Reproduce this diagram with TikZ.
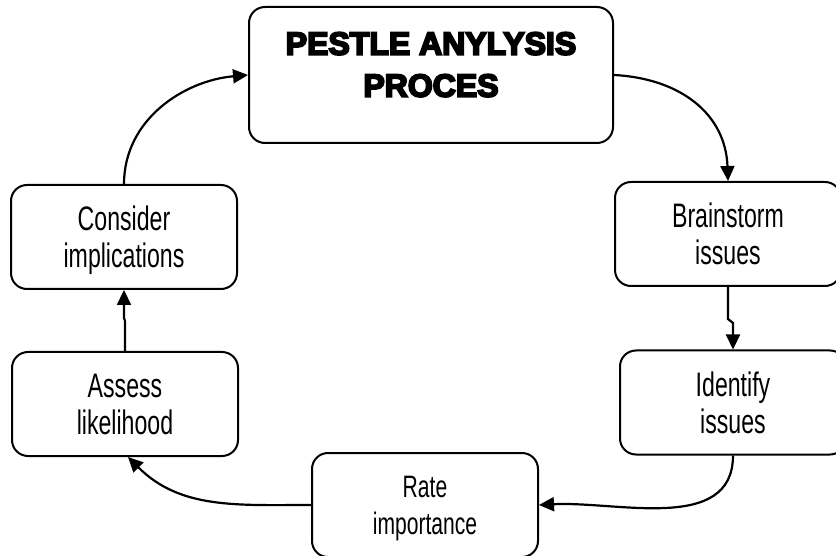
\documentclass[tikz,border=0pt]{standalone}
\usepackage{fontspec}
\setmainfont{Liberation Sans}[FakeStretch=0.68]
\newfontfamily\headfont{Liberation Sans}[FakeBold=6,BoldFeatures={FakeBold=6}]
\usepackage{tikz}
\usetikzlibrary{arrows.meta}
\definecolor{ink}{HTML}{000000}
\tikzset{
  box/.style={draw=ink, line width=2pt, rounded corners=16pt, align=center,
    font=\fontsize{34}{37}\selectfont, minimum width=226pt, minimum height=104pt,
    inner sep=0pt, text depth=0pt},
  small/.style={font=\fontsize{31}{37}\selectfont},
  head/.style={box, font=\headfont\bfseries\fontsize{32}{42}\selectfont,
    minimum width=364pt, minimum height=136pt, text depth=21pt},
  flow/.style={draw=ink, line width=2.2pt, -{Triangle[length=15pt,width=14pt]}},
}

\begin{document}
\begin{tikzpicture}[x=1pt,y=1pt]
  \useasboundingbox (0,0) rectangle (836,555);

  \node[head] (head) at (431,480) {PESTLE ANYLYSIS\\PROCES};
  \node[box] (brain) at (728,321) {Brainstorm\\issues};
  \node[box] (ident) at (733,152.5) {Identify\\issues};
  \node[box,small] (rate) at (425,50) {Rate\\importance};
  \node[box] (assess) at (125,151) {Assess\\likelihood};
  \node[box] (cons) at (124,318) {Consider\\implications};

  \draw[flow] (head.east) to[out=-3,in=92,looseness=1.1] (brain.north);
  \draw[flow] (brain.south) -- ++(0,-32) -- ++(5,-4) -- (ident.north); % small jog
  \draw[flow] (ident.south) to[out=-90,in=3] (rate.east);
  \draw[flow] (rate.west) to[out=180,in=-45] ([xshift=3pt]assess.south);
  \draw[flow] (assess.north) -- ++(0,30) -- ++(-1,3) -- (cons.south); % small jog
  \draw[flow] (cons.north) to[out=90,in=185] (head.west);
\end{tikzpicture}
\end{document}
